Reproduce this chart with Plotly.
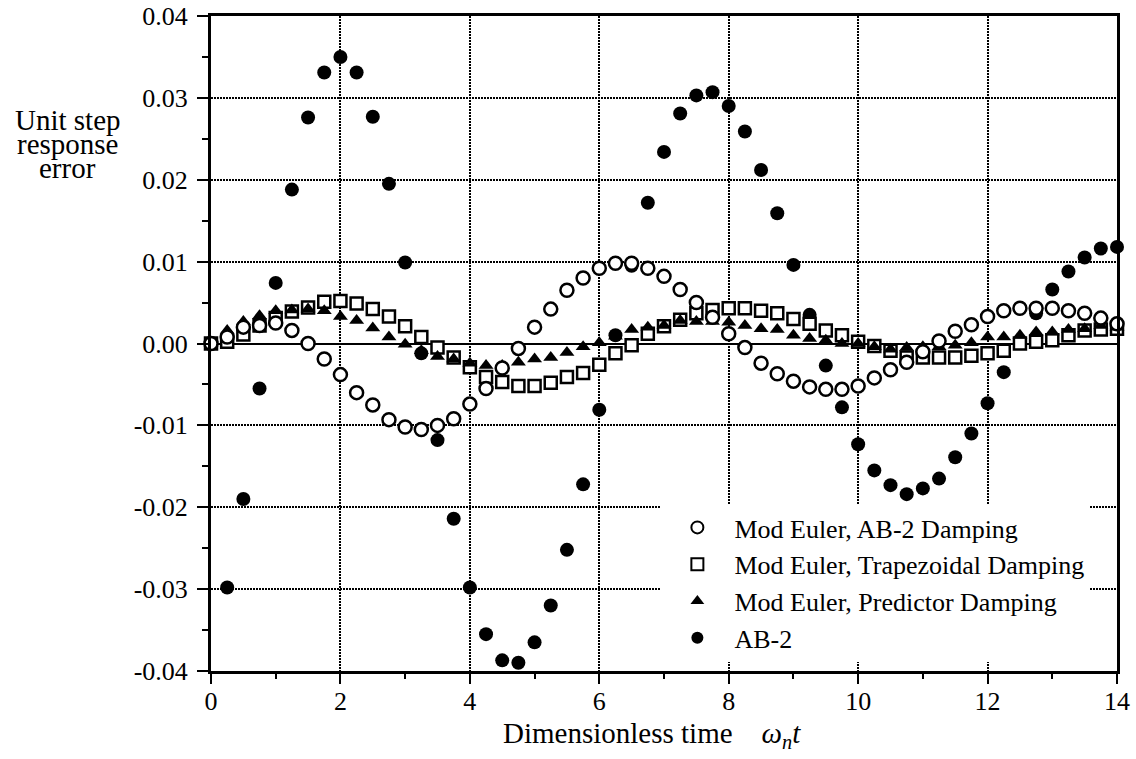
import plotly.graph_objects as go

t = [0.0, 0.25, 0.5, 0.75, 1.0, 1.25, 1.5, 1.75, 2.0, 2.25, 2.5, 2.75, 3.0, 3.25, 3.5, 3.75,
     4.0, 4.25, 4.5, 4.75, 5.0, 5.25, 5.5, 5.75, 6.0, 6.25, 6.5, 6.75, 7.0, 7.25, 7.5, 7.75,
     8.0, 8.25, 8.5, 8.75, 9.0, 9.25, 9.5, 9.75, 10.0, 10.25, 10.5, 10.75, 11.0, 11.25, 11.5,
     11.75, 12.0, 12.25, 12.5, 12.75, 13.0, 13.25, 13.5, 13.75, 14.0]

ab2 = [0.0, -0.0298, -0.019, -0.0055, 0.0074, 0.0188, 0.0276, 0.0331, 0.0350, 0.0331, 0.0277,
       0.0195, 0.0099, -0.0012, -0.0118, -0.0214, -0.0298, -0.0355, -0.0387, -0.0390, -0.0365,
       -0.0320, -0.0252, -0.0172, -0.0081, 0.0010, 0.0095, 0.0172, 0.0234, 0.0281, 0.0303,
       0.0307, 0.0290, 0.0259, 0.0212, 0.0159, 0.0096, 0.0035, -0.0027, -0.0078, -0.0123,
       -0.0155, -0.0173, -0.0184, -0.0177, -0.0165, -0.0139, -0.0110, -0.0073, -0.0035,
       0.0001, 0.0037, 0.0066, 0.0088, 0.0105, 0.0116, 0.0118]

me_ab2 = [0.0, 0.0008, 0.0020, 0.0022, 0.0025, 0.0016, 0.0000, -0.0019, -0.0038, -0.0060,
          -0.0075, -0.0093, -0.0102, -0.0105, -0.0100, -0.0092, -0.0074, -0.0055, -0.0030,
          -0.0006, 0.0020, 0.0042, 0.0065, 0.0080, 0.0092, 0.0098, 0.0098, 0.0092, 0.0082,
          0.0066, 0.0050, 0.0032, 0.0012, -0.0005, -0.0024, -0.0037, -0.0046, -0.0053,
          -0.0056, -0.0056, -0.0052, -0.0042, -0.0032, -0.0023, -0.0010, 0.0003, 0.0015,
          0.0023, 0.0033, 0.0040, 0.0043, 0.0043, 0.0043, 0.0040, 0.0037, 0.0031, 0.0024]

me_trap = [0.0, 0.0002, 0.0011, 0.0022, 0.0031, 0.0039, 0.0044, 0.0051, 0.0052, 0.0049,
           0.0042, 0.0033, 0.0021, 0.0008, -0.0005, -0.0017, -0.0029, -0.0041, -0.0047,
           -0.0052, -0.0052, -0.0048, -0.0041, -0.0036, -0.0026, -0.0012, -0.0002, 0.0012,
           0.0021, 0.0029, 0.0037, 0.0041, 0.0043, 0.0043, 0.0040, 0.0037, 0.0030, 0.0024,
           0.0016, 0.0010, 0.0002, -0.0003, -0.0009, -0.0017, -0.0017, -0.0017, -0.0017,
           -0.0015, -0.0012, -0.0009, 0.0000, 0.0002, 0.0004, 0.0010, 0.0016, 0.0017, 0.0018]

me_pred = [0.0, 0.0016, 0.0027, 0.0034, 0.0040, 0.0041, 0.0042, 0.0040, 0.0033, 0.0028,
           0.0019, 0.0008, -0.0001, -0.0009, -0.0016, -0.0019, -0.0024, -0.0027, -0.0027,
           -0.0023, -0.0019, -0.0017, -0.0011, -0.0004, 0.0001, 0.0009, 0.0017, 0.0020,
           0.0022, 0.0028, 0.0027, 0.0027, 0.0026, 0.0022, 0.0018, 0.0017, 0.0010, 0.0006,
           0.0004, 0.0000, 0.0000, -0.0004, -0.0007, -0.0005, -0.0004, -0.0004, -0.0002,
           0.0001, 0.0008, 0.0008, 0.0010, 0.0014, 0.0014, 0.0017, 0.0018, 0.0022, 0.0020]

names = ["Mod Euler, AB-2 Damping", "Mod Euler, Trapezoidal Damping",
         "Mod Euler, Predictor Damping", "AB-2"]

xtick_vals = [0, 2, 4, 6, 8, 10, 12, 14]
xtick_text = ["0", "2", "4", "6", "8", "10", "12", "14"]
ytick_vals = [-0.04, -0.03, -0.02, -0.01, 0.0, 0.01, 0.02, 0.03, 0.04]
ytick_text = ["-0.04", "-0.03", "-0.02", "-0.01", "0.00", "0.01", "0.02", "0.03", "0.04"]

ytitle_lines = ["Unit step", "response", "error"]
xtitle = "Dimensionless time    <i>ω<sub>n</sub>t</i>"

FONT = "Liberation Serif, Times New Roman, serif"

fig = go.Figure()

# draw order: AB-2 at bottom, then squares, triangles, open circles
fig.add_trace(go.Scatter(x=t, y=ab2, mode="markers", name=names[3], legendrank=4,
                         legendgroup="d",
                         marker=dict(symbol="circle", size=14, color="black"),
                         cliponaxis=False))
fig.add_trace(go.Scatter(x=t, y=me_trap, mode="markers", name=names[1], legendrank=2,
                         legendgroup="b",
                         marker=dict(symbol="square", size=12, color="white",
                                     line=dict(color="black", width=2.5)),
                         cliponaxis=False))
fig.add_trace(go.Scatter(x=t, y=me_pred, mode="markers", name=names[2], legendrank=3,
                         legendgroup="c",
                         marker=dict(symbol="triangle-up", size=13, color="black"),
                         cliponaxis=False))
fig.add_trace(go.Scatter(x=t, y=me_ab2, mode="markers", name=names[0], legendrank=1,
                         legendgroup="a",
                         marker=dict(symbol="circle", size=13, color="white",
                                     line=dict(color="black", width=2.5)),
                         cliponaxis=False))

fig.update_layout(
    width=1136, height=759,
    margin=dict(l=211, r=19, t=16, b=88),
    paper_bgcolor="white", plot_bgcolor="white",
    font=dict(family=FONT, size=26, color="black"),
    showlegend=True,
    legend=dict(x=0.496, y=0.255, xanchor="left", yanchor="top",
                bgcolor="white", borderwidth=0, font=dict(size=26),
                itemsizing="constant", itemwidth=64, tracegroupgap=7.5,
                traceorder="normal"),
)

fig.update_xaxes(
    range=[0, 14], tickvals=xtick_vals, ticktext=xtick_text, automargin=False,
    showline=True, linecolor="black", linewidth=3, mirror=True,
    ticks="outside", ticklen=10, tickwidth=2, tickcolor="black",
    showgrid=True, gridcolor="black", gridwidth=1.5, griddash="2px,1px",
    zeroline=False,
    minor=dict(dtick=1, ticks="outside", ticklen=5, tickwidth=2, tickcolor="black",
               showgrid=False),
    tickfont=dict(size=26), ticklabelstandoff=-5,
)
fig.update_yaxes(
    range=[-0.04, 0.04], tickvals=ytick_vals, ticktext=ytick_text, automargin=False,
    showline=True, linecolor="black", linewidth=3, mirror=True,
    ticks="outside", ticklen=11, tickwidth=2, tickcolor="black",
    showgrid=True, gridcolor="black", gridwidth=1.5, griddash="2px,1px",
    zeroline=True, zerolinecolor="black", zerolinewidth=2,
    minor=dict(dtick=0.005, ticks="outside", ticklen=6, tickwidth=2, tickcolor="black",
               showgrid=False),
    tickfont=dict(size=26), ticklabelstandoff=4,
)

for line, yp in zip(ytitle_lines, [0.841, 0.8046, 0.768]):
    fig.add_annotation(text=line, xref="paper", yref="paper",
                       x=-0.158, y=yp, xanchor="center", yanchor="middle",
                       showarrow=False, font=dict(size=29, family=FONT))
fig.add_annotation(text=xtitle, xref="paper", yref="paper",
                   x=0.487, y=-0.097, xanchor="center", yanchor="middle",
                   showarrow=False, font=dict(size=29, family=FONT))

fig.write_html("out.html", config={"displayModeBar": False},
               post_script="document.body.style.margin='0';document.body.style.overflow='hidden';")
